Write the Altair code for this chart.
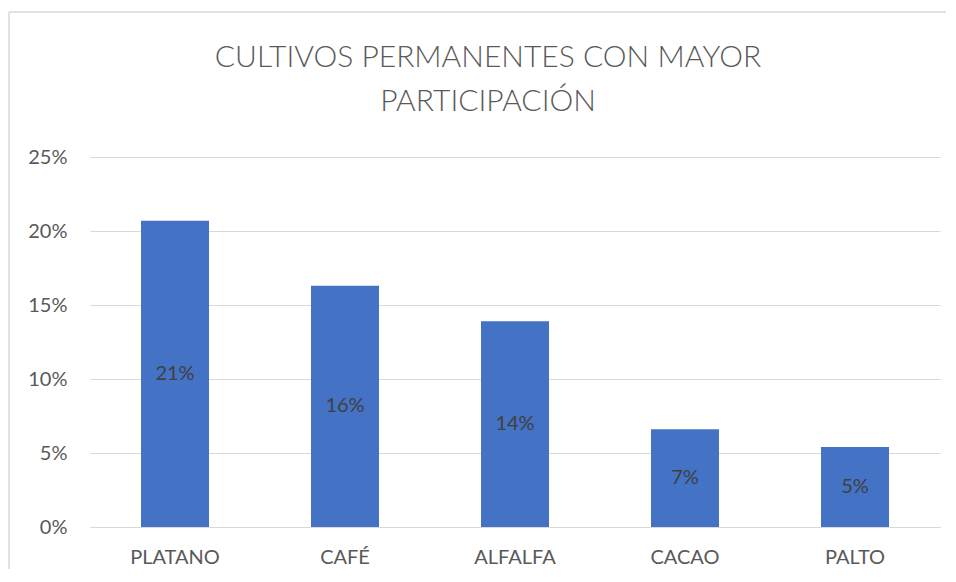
import altair as alt
import pandas as pd

categories = ["PLATANO", "CAFÉ", "ALFALFA", "CACAO", "PALTO"]
shares = [0.207, 0.163, 0.139, 0.066, 0.054]
title_lines = ["CULTIVOS PERMANENTES CON MAYOR", "PARTICIPACIÓN"]
y_ticks = [0, 0.05, 0.10, 0.15, 0.20, 0.25]

df = pd.DataFrame({"cultivo": categories, "share": shares})

FONT = "Lato"
GRAY = "#595959"
GRID = "#D9D9D9"

x_enc = alt.X(
    "cultivo:N", sort=categories, title=None,
    scale=alt.Scale(paddingInner=0.6, paddingOuter=0.3),
    axis=alt.Axis(labelAngle=0, labelFont=FONT, labelFontSize=20, labelColor=GRAY,
                  labelPadding=20, ticks=False, domainColor=GRID, domainWidth=1),
)
y_enc = alt.Y(
    "share:Q", title=None,
    scale=alt.Scale(domain=[0, 0.25], nice=False),
    axis=alt.Axis(values=y_ticks, format=".0%", labelFont=FONT, labelFontSize=20,
                  labelColor=GRAY, labelPadding=23, ticks=False, domain=False,
                  gridColor=GRID, gridWidth=1),
)

bars = alt.Chart(df).mark_bar(color="#4472C4").encode(x=x_enc, y=y_enc)

labels = (
    alt.Chart(df)
    .transform_calculate(mid="datum.share / 2")
    .mark_text(font=FONT, fontSize=20, color="#404040", baseline="middle")
    .encode(
        x=alt.X("cultivo:N", sort=categories),
        y=alt.Y("mid:Q"),
        text=alt.Text("share:Q", format=".0%"),
    )
)

one = pd.DataFrame({"f": [0]})
frame_top = (
    alt.Chart(one).mark_rule(color=GRID, strokeWidth=1.5)
    .encode(x=alt.value(-81), x2=alt.value(900), y=alt.value(-145))
)
frame_left = (
    alt.Chart(one).mark_rule(color=GRID, strokeWidth=1.5)
    .encode(x=alt.value(-81), y=alt.value(-145), y2=alt.value(460))
)

title1 = (
    alt.Chart(pd.DataFrame({"t": [title_lines[0]]}))
    .mark_text(font=FONT, fontSize=30, fontWeight=300, color=GRAY, baseline="middle", align="center")
    .encode(text="t:N", x=alt.value(398), y=alt.value(-99))
)
title2 = (
    alt.Chart(pd.DataFrame({"t": [title_lines[1]]}))
    .mark_text(font=FONT, fontSize=30, fontWeight=300, color=GRAY, baseline="middle", align="center")
    .encode(text="t:N", x=alt.value(398), y=alt.value(-55))
)

chart = (
    alt.layer(frame_top, frame_left, bars, labels, title1, title2)
    .properties(
        width=850,
        height=370,
        autosize=alt.AutoSizeParams(type="none"),
        padding={"left": 82, "top": 149, "right": 6, "bottom": 42},
    )
    .configure_view(strokeWidth=0)
)

chart.save("out.html", embed_options={"renderer": "svg", "actions": False})
